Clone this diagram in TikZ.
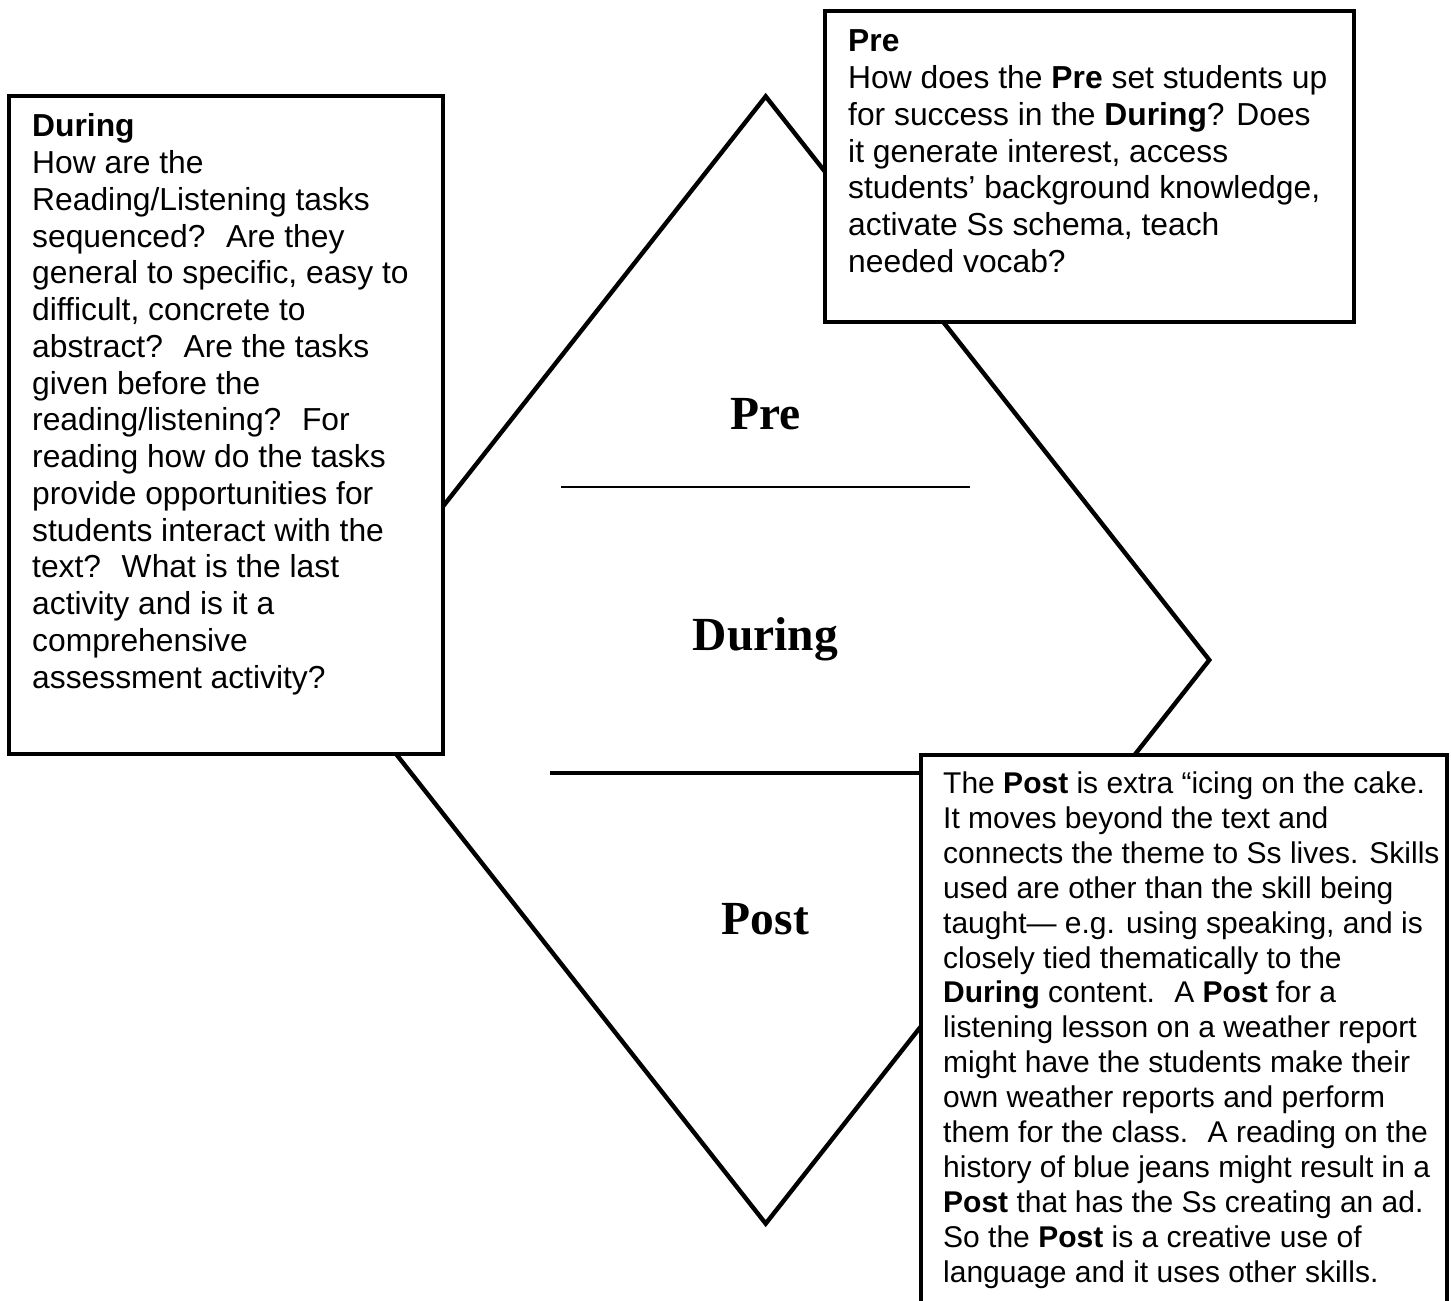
\documentclass[tikz,border=0pt]{standalone}
\usepackage{fontspec}
\setmainfont{Liberation Serif}
\newfontfamily\arialfont{Liberation Sans}
\begin{document}
\begin{tikzpicture}[x=1pt,y=-1pt,
  diam/.style={line width=4.4pt, line join=miter},
  rulestyle/.style={line width=4.2pt},
  thinrule/.style={line width=2pt},
  boxframe/.style={draw=black, line width=3.2pt, fill=white, rectangle, inner sep=0pt, outer sep=0pt},
  boxtext/.style={anchor=north west, inner sep=0pt, align=left, font=\arialfont\fontsize{31.8}{36.75}\selectfont},
  boxtextsmall/.style={anchor=north west, inner sep=0pt, align=left, font=\arialfont\fontsize{30}{34.9}\selectfont},
  biglabel/.style={anchor=base, inner sep=0pt, font=\fontsize{47.5}{50}\selectfont\bfseries}]
\useasboundingbox (0,0) rectangle (1451,1301);
\clip (0,0) rectangle (1451,1301);
\fill[white] (0,0) rectangle (1451,1301);
% diamond
\coordinate (dtop) at (765.7,96.4);
\coordinate (dright) at (1209.3,660);
\coordinate (dbot) at (765.7,1223.6);
\coordinate (dleft) at (322.1,660);
\draw[diam] (dtop) -- (dright) -- (dbot) -- (dleft) -- cycle;
% labels
\node[biglabel] (prelabel) at (765.5,429.5) {Pre};
\node[biglabel] (duringlabel) at (765.5,650) {During};
\node[biglabel] (postlabel) at (765.5,934) {Post};
% separators
\coordinate (ula) at (561,487);
\coordinate (ulb) at (970,487);
\draw[thinrule] (ula) -- (ulb);
% boxes
\node[boxframe, minimum width=434pt, minimum height=658pt] (duringbox) at (226,425) {};
\node[boxframe, minimum width=529pt, minimum height=311pt] (prebox) at (1089.5,166.5) {};
\node[boxframe, minimum width=526pt, minimum height=575pt] (postbox) at (1184,1042.5) {};
\coordinate (hl) at (550,773.3);
\draw[rulestyle] (hl) -- (hl -| postbox.west);
% box texts
\node[boxtext] (duringtext) at (32,111.7) {\rule{0pt}{25pt}\textbf{During}\\
How are the\\
Reading/Listening tasks\\
sequenced?~ Are they\\
general to specific, easy to\\
difficult, concrete to\\
abstract?~ Are the tasks\\
given before the\\
reading/listening?~ For\\
reading how do the tasks\\
provide opportunities for\\
students interact with the\\
text?~ What is the last\\
activity and is it a\\
comprehensive\\
assessment activity?};
\node[boxtext] (pretext) at (848,26.7) {\rule{0pt}{25pt}\textbf{Pre}\\
How does the \textbf{Pre} set students up\\
for success in the \textbf{During}? Does\\
it generate interest, access\\
students’ background knowledge,\\
activate Ss schema, teach\\
needed vocab?};
\node[boxtextsmall] (posttext) at (943,768.3) {\rule{0pt}{25pt}The \textbf{Post} is extra “icing on the cake.\\
It moves beyond the text and\\
connects the theme to Ss lives. Skills\\
used are other than the skill being\\
taught— e.g. using speaking, and is\\
closely tied thematically to the\\
\textbf{During} content.~ A \textbf{Post} for a\\
listening lesson on a weather report\\
might have the students make their\\
own weather reports and perform\\
them for the class.~ A reading on the\\
history of blue jeans might result in a\\
\textbf{Post} that has the Ss creating an ad.\\
So the \textbf{Post} is a creative use of\\
language and it uses other skills.};
\end{tikzpicture}
\end{document}
